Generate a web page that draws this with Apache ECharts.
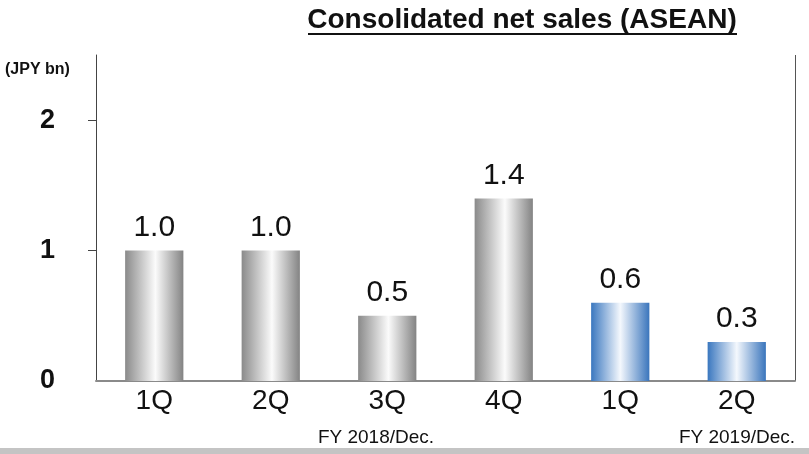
<!DOCTYPE html>
<html>
<head>
<meta charset="utf-8">
<script src="https://cdn.jsdelivr.net/npm/echarts@6/dist/echarts.min.js"></script>
<style>
  html, body { margin: 0; padding: 0; background: #fff; }
  #chart { width: 809px; height: 454px; }
</style>
</head>
<body>
<div id="chart"></div>
<script>
// Quarterly consolidated net sales, ASEAN (JPY bn)
const categories = ['1Q', '2Q', '3Q', '4Q', '1Q ', '2Q '];
const fiscalYear = ['FY2018', 'FY2018', 'FY2018', 'FY2018', 'FY2019', 'FY2019'];
const salesValues = [1.0, 1.0, 0.5, 1.4, 0.6, 0.3];
const yTickValues = [0, 1, 2];
const yearLabels = ['FY 2018/Dec.', 'FY 2019/Dec.'];
const titleText = 'Consolidated net sales (ASEAN)';
const unitText = '(JPY bn)';

const grayFill = new echarts.graphic.LinearGradient(0, 0, 1, 0, [
  { offset: 0, color: '#8a8a8a' },
  { offset: 0.52, color: '#fbfbfb' },
  { offset: 1, color: '#838383' }
]);
const blueFill = new echarts.graphic.LinearGradient(0, 0, 1, 0, [
  { offset: 0, color: '#3a77bf' },
  { offset: 0.5, color: '#f4f8fd' },
  { offset: 1, color: '#3a75bc' }
]);

const chart = echarts.init(document.getElementById('chart'), null, { renderer: 'canvas' });

const font = 'Liberation Sans, Arial, sans-serif';

chart.setOption({
  animation: false,
  backgroundColor: '#ffffff',
  grid: { left: 96, right: 14, top: 55, bottom: 73, containLabel: false },
  xAxis: {
    type: 'category',
    data: categories,
    boundaryGap: true,
    axisLine: { show: true, lineStyle: { color: '#8a8a8a', width: 2 } },
    axisTick: { show: false },
    axisLabel: {
      margin: 6,
      color: '#111',
      fontFamily: font,
      fontSize: 28,
      formatter: v => v.trim()
    },
    splitLine: {
      show: true,
      interval: (idx) => idx === 4,
      lineStyle: { color: '#555', width: 1 }
    }
  },
  yAxis: {
    type: 'value',
    min: 0,
    max: 2.5,
    interval: 1,
    axisLine: { show: true, lineStyle: { color: '#444', width: 1 } },
    axisTick: { show: true, inside: false, length: 8, customValues: yTickValues.slice(1), lineStyle: { color: '#444' } },
    axisLabel: {
      customValues: yTickValues,
      margin: 41,
      color: '#111',
      fontFamily: font,
      fontWeight: 'bold',
      fontSize: 27
    },
    splitLine: { show: false }
  },
  graphic: [
    {
      type: 'text',
      x: 522, y: 20,
      style: { text: titleText, font: 'bold 28px ' + font, fill: '#111', align: 'center', verticalAlign: 'middle' }
    },
    {
      type: 'rect',
      shape: { x: 308, y: 33, width: 429, height: 2 },
      style: { fill: '#111' }
    },
    {
      type: 'text',
      x: 5, y: 70,
      style: { text: unitText, font: 'bold 16px ' + font, fill: '#111', verticalAlign: 'middle' }
    },
    {
      type: 'text',
      x: 376, y: 438,
      style: { text: yearLabels[0], font: '19px ' + font, fill: '#111', align: 'center', verticalAlign: 'middle' }
    },
    {
      type: 'text',
      x: 737, y: 438,
      style: { text: yearLabels[1], font: '19px ' + font, fill: '#111', align: 'center', verticalAlign: 'middle' }
    },
    {
      type: 'rect',
      shape: { x: 0, y: 448, width: 809, height: 6 },
      style: { fill: '#c4c4c4' }
    }
  ],
  series: [{
    type: 'bar',
    barWidth: '50%',
    data: salesValues.map((v, i) => ({
      value: v,
      itemStyle: { color: fiscalYear[i] === 'FY2019' ? blueFill : grayFill }
    })),
    label: {
      show: true,
      position: 'top',
      distance: 8,
      formatter: p => p.value.toFixed(1),
      color: '#111',
      fontFamily: font,
      fontSize: 30
    }
  }]
});
</script>
</body>
</html>
